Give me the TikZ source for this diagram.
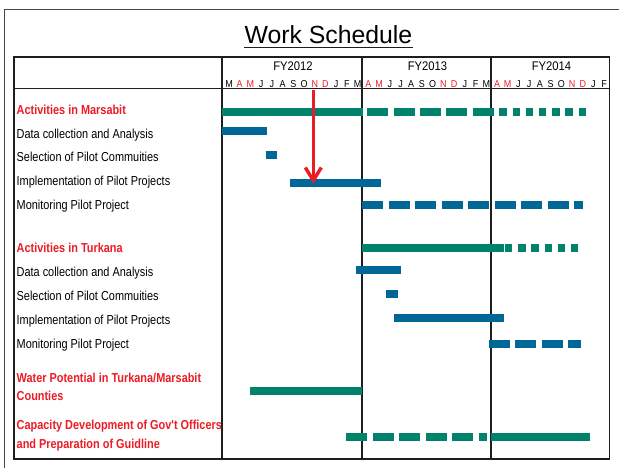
\documentclass[tikz,border=0pt]{standalone}
\usepackage{fontspec}
\setmainfont{Liberation Sans}
\newfontfamily\lblfont[FakeStretch=0.84]{Liberation Sans}
\newfontfamily\hdrfont[FakeStretch=0.9]{Liberation Sans}
\definecolor{barG}{RGB}{0,130,108}
\definecolor{barB}{RGB}{0,104,150}
\definecolor{markred}{RGB}{237,28,36}
\definecolor{framegray}{RGB}{70,70,70}
\definecolor{rule}{RGB}{30,30,30}
\tikzset{
  gridline/.style={draw=rule, line width=1.8pt},
  lbl/.style={font=\lblfont\fontsize{13}{15}\selectfont, anchor=base west, inner sep=0pt, text=black},
  head/.style={lbl, font=\lblfont\bfseries\fontsize{13}{15}\selectfont, text=markred},
  fylbl/.style={font=\hdrfont\fontsize{12.5}{14}\selectfont, anchor=base, inner sep=0pt},
  mon/.style={font=\hdrfont\fontsize{10}{12}\selectfont, anchor=base, inner sep=0pt},
  gbar/.style={draw=barG, line width=8pt},
  bbar/.style={draw=barB, line width=8pt},
  longdash/.style={dash pattern=on 21pt off 5.3pt},
  shortdash/.style={dash pattern=on 7.4pt off 5.8pt},
}
\begin{document}
\begin{tikzpicture}[x=1pt,y=-1pt]
\useasboundingbox (0,0) rectangle (619,467);
\fill[white] (0,0) rectangle (619,467);

% outer frame (runs off the page on the right and bottom)
\draw[framegray, line width=1.3pt] (4.8,475) -- (4.8,9.8) -- (630,9.8);

% title
\node[font=\fontsize{24.8}{28}\selectfont, anchor=base, inner sep=0pt] (title) at (328.4,43.3) {Work Schedule};
\draw[rule, line width=1.7pt] (244,47.5) -- (412.7,47.5);

% table grid
\draw[gridline] (14,57) rectangle (609.5,459);
\draw[gridline] (14,88.5) -- (609.5,88.5);
\foreach \x in {222.3,362.3,490.8}
  \draw[gridline] (\x,57) -- (\x,459);

% fiscal years
\node[fylbl] (fy12) at (293,70.5) {FY2012};
\node[fylbl] (fy13) at (427.5,70.5) {FY2013};
\node[fylbl] (fy14) at (551.5,70.5) {FY2014};

% months
\foreach \m/\c [count=\i from 0] in {
  M/black,A/markred,M/markred,J/black,J/black,A/black,S/black,O/black,N/markred,D/markred,J/black,F/black,M/black,
  A/markred,M/markred,J/black,J/black,A/black,S/black,O/black,N/markred,D/markred,J/black,F/black,M/black,
  A/markred,M/markred,J/black,J/black,A/black,S/black,O/black,N/markred,D/markred,J/black,F/black}
  \node[mon, text=\c] (month\i) at ({229+10.72*\i},87) {\m};

% task labels
\node[head] (t1) at (16.5,114) {Activities in Marsabit};
\node[lbl]  (t2) at (16.5,138) {Data collection and Analysis};
\node[lbl]  (t3) at (16.5,161.4) {Selection of Pilot Commuities};
\node[lbl]  (t4) at (16.5,185.4) {Implementation of Pilot Projects};
\node[lbl]  (t5) at (16.5,209.7) {Monitoring Pilot Project};
\node[head] (t6) at (16.5,252) {Activities in Turkana};
\node[lbl]  (t7) at (16.5,276.4) {Data collection and Analysis};
\node[lbl]  (t8) at (16.5,300.4) {Selection of Pilot Commuities};
\node[lbl]  (t9) at (16.5,324.7) {Implementation of Pilot Projects};
\node[lbl]  (t10) at (16.5,348.7) {Monitoring Pilot Project};
\node[head] (t11a) at (16.5,382.4) {Water Potential in Turkana/Marsabit};
\node[head] (t11b) at (16.5,400.7) {Counties};
\node[head] (t12a) at (16.5,429) {Capacity Development of Gov't Officers};
\node[head] (t12b) at (16.5,448) {and Preparation of Guidline};

% Marsabit bars
\draw[gbar] (222.3,112) -- (363.3,112);
\draw[gbar, longdash] (367.3,112) -- (494,112);
\draw[gbar, shortdash] (499.3,112) -- (586,112);
\draw[bbar] (221.7,131.2) -- (266.7,131.2);
\draw[bbar] (265.7,155.2) -- (277.3,155.2);
\draw[bbar] (290,183.3) -- (381,183.3);
\draw[bbar, dash pattern=on 21pt off 5.46pt] (362.3,205.3) -- (583.3,205.3);

% Turkana bars
\draw[gbar] (361.7,248.2) -- (504,248.2);
\draw[gbar, dash pattern=on 7.4pt off 5.8pt] (505,248.2) -- (578.3,248.2);
\draw[bbar] (355.7,269.5) -- (400.7,269.5);
\draw[bbar] (386.3,293.5) -- (398.3,293.5);
\draw[bbar] (394.3,317.8) -- (504,317.8);
\draw[bbar, dash pattern=on 21.3pt off 5.1pt] (488.7,343.5) -- (581,343.5);

% water potential and capacity development
\draw[gbar] (250,390.8) -- (362.3,390.8);
\draw[gbar, dash pattern=on 21pt off 5.5pt] (346.3,437.2) -- (487.3,437.2);
\draw[gbar] (491,437.2) -- (590,437.2);

% current-month marker
\coordinate (nowtop) at (313.3,90);
\coordinate (nowtip) at (313.3,182.5);
\draw[markred, line width=3.6pt] (nowtop) -- ([yshift=2pt]nowtip);
\draw[markred, line width=3.4pt, line join=miter, miter limit=4] ([xshift=-8pt,yshift=15pt]nowtip) -- ([yshift=2pt]nowtip) -- ([xshift=8pt,yshift=15pt]nowtip);
\end{tikzpicture}
\end{document}
